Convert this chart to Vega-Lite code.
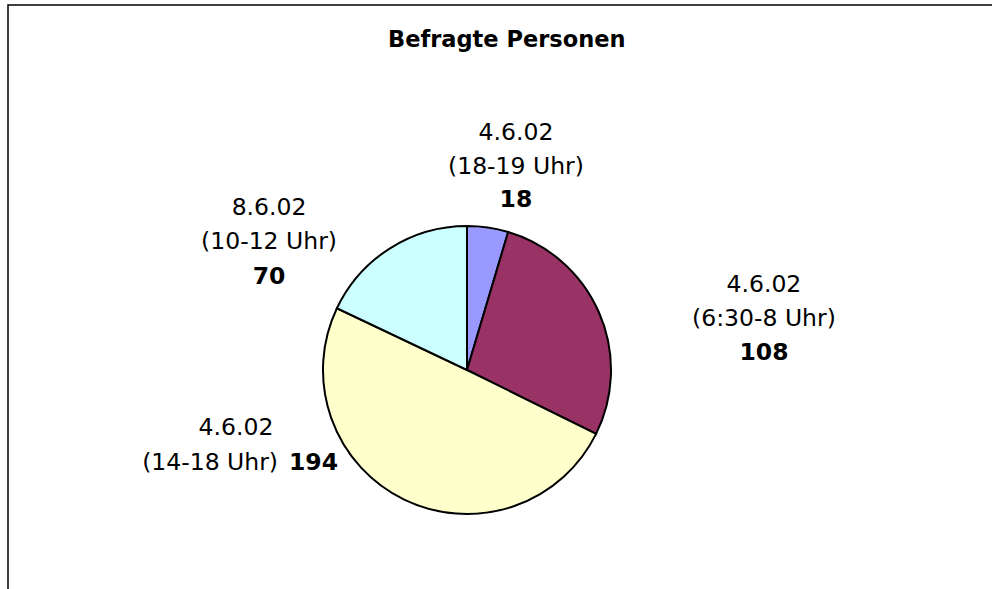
{
  "$schema": "https://vega.github.io/schema/vega-lite/v6.json",
  "autosize": {"type": "none"},
  "width": 1010,
  "height": 610,
  "padding": {"left": 8, "top": 5, "right": -26, "bottom": -26},
  "background": "white",
  "title": {
    "text": "Befragte Personen",
    "font": "DejaVu Sans",
    "fontSize": 22.5,
    "fontWeight": "bold",
    "color": "black",
    "anchor": "start",
    "baseline": "alphabetic",
    "offset": -47,
    "dx": 380,
    "dy": 17
  },
  "config": {"view": {"stroke": "black", "strokeWidth": 1.5}},
  "data": {
    "values": [
      {"slice": "4.6.02 (18-19 Uhr)", "info": "4.6.02\n(18-19 Uhr)", "date": "4.6.02", "time": "(18-19 Uhr)", "value": 18, "order": 1},
      {"slice": "4.6.02 (6:30-8 Uhr)", "info": "4.6.02\n(6:30-8 Uhr)", "date": "4.6.02", "time": "(6:30-8 Uhr)", "value": 108, "order": 2},
      {"slice": "4.6.02 (14-18 Uhr)", "info": "4.6.02\n(14-18 Uhr)", "date": "4.6.02", "time": "(14-18 Uhr)", "value": 194, "order": 3},
      {"slice": "8.6.02 (10-12 Uhr)", "info": "8.6.02\n(10-12 Uhr)", "date": "8.6.02", "time": "(10-12 Uhr)", "value": 70, "order": 4}
    ]
  },
  "layer": [
    {
      "mark": {"type": "rule", "opacity": 0},
      "encoding": {
        "y": {"datum": 0, "type": "quantitative", "axis": null, "scale": {"domain": [0, 1]}}
      }
    },
    {
      "mark": {"type": "arc", "outerRadius": 144, "stroke": "black", "strokeWidth": 2, "x": 459, "y": 365},
      "encoding": {
        "theta": {"field": "value", "type": "quantitative", "stack": true},
        "order": {"field": "order", "type": "quantitative"},
        "color": {
          "field": "slice",
          "type": "nominal",
          "scale": {
            "domain": ["4.6.02 (18-19 Uhr)", "4.6.02 (6:30-8 Uhr)", "4.6.02 (14-18 Uhr)", "8.6.02 (10-12 Uhr)"],
            "range": ["#9999FF", "#993366", "#FFFFCC", "#CCFFFF"]
          },
          "legend": null
        }
      }
    },
    {
      "mark": {"type": "text", "x": 459, "y": 365, "radius": 170, "font": "DejaVu Sans", "fontSize": 23.5, "lineBreak": "\n", "lineHeight": 34, "align": "center", "baseline": "alphabetic", "dx": 24.4, "dy": -61.8, "color": "black"},
      "encoding": {
        "theta": {"field": "value", "type": "quantitative", "stack": true},
        "order": {"field": "order", "type": "quantitative"},
        "text": {"condition": {"test": "datum.value === 18", "field": "info", "type": "nominal"}, "value": ""}
      }
    },
    {
      "mark": {"type": "text", "x": 459, "y": 365, "radius": 170, "font": "DejaVu Sans", "fontSize": 23.5, "fontWeight": "bold", "align": "center", "baseline": "alphabetic", "dx": 24.4, "dy": 5.2, "color": "black"},
      "encoding": {
        "theta": {"field": "value", "type": "quantitative", "stack": true},
        "order": {"field": "order", "type": "quantitative"},
        "text": {"condition": {"test": "datum.value === 18", "field": "value", "type": "nominal"}, "value": ""}
      }
    },
    {
      "mark": {"type": "text", "x": 459, "y": 365, "radius": 170, "font": "DejaVu Sans", "fontSize": 23.5, "lineBreak": "\n", "lineHeight": 34, "align": "center", "baseline": "alphabetic", "dx": 141.1, "dy": -10.1, "color": "black"},
      "encoding": {
        "theta": {"field": "value", "type": "quantitative", "stack": true},
        "order": {"field": "order", "type": "quantitative"},
        "text": {"condition": {"test": "datum.value === 108", "field": "info", "type": "nominal"}, "value": ""}
      }
    },
    {
      "mark": {"type": "text", "x": 459, "y": 365, "radius": 170, "font": "DejaVu Sans", "fontSize": 23.5, "fontWeight": "bold", "align": "center", "baseline": "alphabetic", "dx": 141.1, "dy": 57.9, "color": "black"},
      "encoding": {
        "theta": {"field": "value", "type": "quantitative", "stack": true},
        "order": {"field": "order", "type": "quantitative"},
        "text": {"condition": {"test": "datum.value === 108", "field": "value", "type": "nominal"}, "value": ""}
      }
    },
    {
      "mark": {"type": "text", "x": 459, "y": 365, "radius": 170, "font": "DejaVu Sans", "fontSize": 23.5, "lineBreak": "\n", "lineHeight": 34, "align": "center", "baseline": "alphabetic", "dx": -107.1, "dy": -11.3, "color": "black"},
      "encoding": {
        "theta": {"field": "value", "type": "quantitative", "stack": true},
        "order": {"field": "order", "type": "quantitative"},
        "text": {"condition": {"test": "datum.value === 70", "field": "info", "type": "nominal"}, "value": ""}
      }
    },
    {
      "mark": {"type": "text", "x": 459, "y": 365, "radius": 170, "font": "DejaVu Sans", "fontSize": 23.5, "fontWeight": "bold", "align": "center", "baseline": "alphabetic", "dx": -107.1, "dy": 57.7, "color": "black"},
      "encoding": {
        "theta": {"field": "value", "type": "quantitative", "stack": true},
        "order": {"field": "order", "type": "quantitative"},
        "text": {"condition": {"test": "datum.value === 70", "field": "value", "type": "nominal"}, "value": ""}
      }
    },
    {
      "mark": {"type": "text", "x": 459, "y": 365, "radius": 170, "font": "DejaVu Sans", "fontSize": 23.5, "align": "center", "baseline": "alphabetic", "dx": -156.9, "dy": -88, "color": "black"},
      "encoding": {
        "theta": {"field": "value", "type": "quantitative", "stack": true},
        "order": {"field": "order", "type": "quantitative"},
        "text": {"condition": {"test": "datum.value === 194", "field": "date", "type": "nominal"}, "value": ""}
      }
    },
    {
      "mark": {"type": "text", "x": 459, "y": 365, "radius": 170, "font": "DejaVu Sans", "fontSize": 23.5, "align": "right", "baseline": "alphabetic", "dx": -114.9, "dy": -53, "color": "black"},
      "encoding": {
        "theta": {"field": "value", "type": "quantitative", "stack": true},
        "order": {"field": "order", "type": "quantitative"},
        "text": {"condition": {"test": "datum.value === 194", "field": "time", "type": "nominal"}, "value": ""}
      }
    },
    {
      "mark": {"type": "text", "x": 459, "y": 365, "radius": 170, "font": "DejaVu Sans", "fontSize": 23.5, "fontWeight": "bold", "align": "left", "baseline": "alphabetic", "dx": -103.9, "dy": -53, "color": "black"},
      "encoding": {
        "theta": {"field": "value", "type": "quantitative", "stack": true},
        "order": {"field": "order", "type": "quantitative"},
        "text": {"condition": {"test": "datum.value === 194", "field": "value", "type": "nominal"}, "value": ""}
      }
    }
  ]
}
